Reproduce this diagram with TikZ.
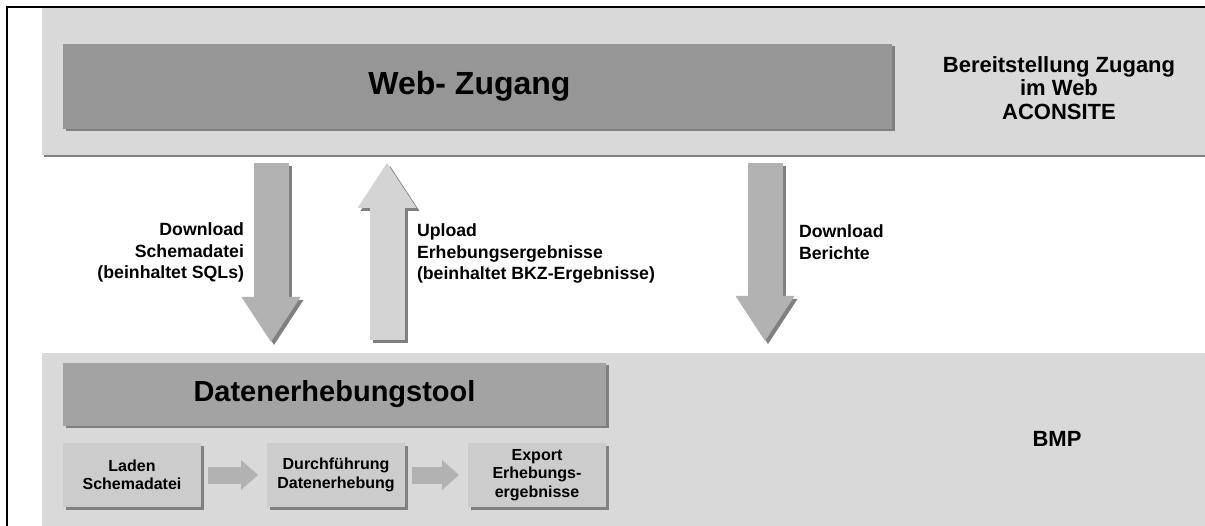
\documentclass[tikz,border=0pt]{standalone}
\usepackage{fontspec}
\setmainfont{Liberation Sans}
\usetikzlibrary{arrows.meta, positioning, shadows}
\definecolor{bandGray}{HTML}{D9D9D9}
\definecolor{webGray}{HTML}{969696}
\definecolor{toolGray}{HTML}{A3A3A3}
\definecolor{stepGray}{HTML}{CCCCCC}
\definecolor{arrowGray}{HTML}{B2B2B2}
\definecolor{upGray}{HTML}{D4D4D4}
\definecolor{shadeGray}{HTML}{808080}

\begin{document}
\begin{tikzpicture}[x=1pt, y=-1pt,
  bandbox/.style={fill=bandGray, inner sep=0pt, outer sep=0pt, anchor=north west,
    general shadow={fill=shadeGray, shadow xshift=2pt, shadow yshift=-2pt}},
  barbox/.style={fill=#1, inner sep=0pt, outer sep=0pt, anchor=north west,
    font=\fontsize{29}{32}\selectfont\bfseries,
    general shadow={fill=shadeGray, shadow xshift=2.5pt, shadow yshift=-2.5pt}},
  stepbox/.style={fill=stepGray, inner sep=0pt, outer sep=0pt, minimum width=138pt,
    minimum height=64pt, align=center, font=\fontsize{16}{18.5}\selectfont\bfseries,
    general shadow={fill=shadeGray, shadow xshift=2.5pt, shadow yshift=-2.5pt}},
  sidetext/.style={font=\fontsize{22}{23.5}\selectfont\bfseries, align=center, inner sep=0pt},
  arrowtext/.style={font=\fontsize{17.7}{21.5}\selectfont\bfseries, text=black,
    inner sep=0pt, outer sep=0pt},
  bigarrow/.style={line width=35pt, -{Triangle[length=45pt, width=59pt, line width=0pt]}},
  steparrow/.style={draw=arrowGray, line width=17pt, -{Triangle[length=17pt, width=30pt, line width=0pt]},
    shorten <=7pt, shorten >=9pt},
]
  \useasboundingbox (0,0) rectangle (1205,526);

  % the two layers
  \node[bandbox, minimum width=1163pt, minimum height=147pt] (zugangBand) at (42,8) {};
  \node[bandbox, minimum width=1163pt, minimum height=173pt] (bmpBand) at (42,353) {};
  \draw[line width=1.3pt] (7,526) -- (7,7) -- (1205,7);

  \node[barbox=webGray, minimum width=829pt, minimum height=85pt,
    font=\fontsize{32}{35}\selectfont\bfseries] (webBox) at (63,44) {Web- Zugang\hspace*{16pt}};
  \node[sidetext] (aconsite) at (1059,88) {Bereitstellung Zugang\\im Web\\ACONSITE};

  \node[barbox=toolGray, minimum width=543pt, minimum height=63pt] (toolBox) at (63,363) {Datenerhebungstool};
  \node[sidetext] (bmp) at (1057,439) {BMP};

  % steps of the tool
  \node[stepbox, anchor=north west] (laden) at (63,443) {Laden\\Schemadatei};
  \node[stepbox, right=66pt of laden] (durchf) {Durchführung\\Datenerhebung};
  \node[stepbox, right=63pt of durchf] (export) {Export\\Erhebungs-\\ergebnisse};
  \draw[steparrow] (laden) -- (durchf);
  \draw[steparrow] (durchf) -- (export);

  % transfer between the layers
  \coordinate (schemaTop) at (271,163);
  \coordinate (schemaEnd) at (271,342);
  \coordinate (uploadTop) at (387,163);
  \coordinate (uploadEnd) at (387,340);
  \coordinate (berichteTop) at (765,163);
  \coordinate (berichteEnd) at (765,341);

  \draw[bigarrow, shadeGray, transform canvas={shift={(3pt,-3pt)}}] (schemaTop) -- (schemaEnd);
  \draw[bigarrow, shadeGray, transform canvas={shift={(3pt,-3pt)}}] (uploadEnd) -- (uploadTop);
  \draw[bigarrow, shadeGray, transform canvas={shift={(3pt,-3pt)}}] (berichteTop) -- (berichteEnd);

  \draw[bigarrow, arrowGray] (schemaTop) --
    node[arrowtext, anchor=east, align=right, xshift=-27pt] {Download\\Schemadatei\\(beinhaltet SQLs)} (schemaEnd);
  \draw[bigarrow, upGray] (uploadEnd) --
    node[arrowtext, anchor=west, align=left, xshift=30pt, yshift=-2pt] {Upload\\Erhebungsergebnisse\\(beinhaltet BKZ-Ergebnisse)} (uploadTop);
  \draw[bigarrow, arrowGray] (berichteTop) --
    node[arrowtext, anchor=west, align=left, xshift=34pt, yshift=10pt] {Download\\Berichte} (berichteEnd);
\end{tikzpicture}
\end{document}
